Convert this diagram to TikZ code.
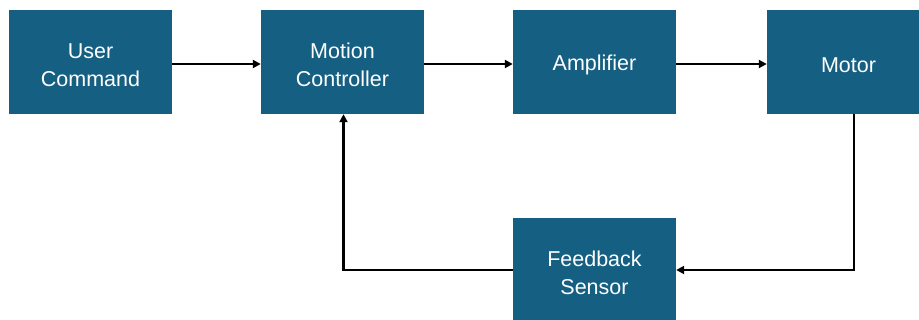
\documentclass[tikz,border=0pt]{standalone}
\usepackage{fontspec}
\setmainfont{Liberation Sans}
\usetikzlibrary{arrows.meta}
\definecolor{boxblue}{HTML}{156082}
\begin{document}
\begin{tikzpicture}[x=1pt,y=-1pt,
  blk/.style={fill=boxblue,draw=none,inner sep=0pt,
    minimum width=163pt,minimum height=104pt},
  txt/.style={text=white,align=center,inner sep=0pt,yshift=-3pt,
    font=\fontsize{21.5}{28}\selectfont},
  conn/.style={draw=black,line width=2.4pt,-{Triangle[length=8pt,width=8pt]}}]
\useasboundingbox (0,0) rectangle (919,320);
\clip (0,0) rectangle (919,320);
\fill[white] (0,0) rectangle (919,320);
\node[blk] (uc) at (90.5,62) {};
\node[blk] (mc) at (342.5,62) {};
\node[blk] (amp) at (594.5,62) {};
\node[blk] (mot) at (848.5,62) {};
\node[blk] (fs) at (594.5,270) {};
\node[txt] (uct) at (uc) {User\\Command};
\node[txt] (mct) at (mc) {Motion\\Controller};
\node[txt] (ampt) at (amp) {Amplifier};
\node[txt] (mott) at (mot) {Motor};
\node[txt] (fst) at (fs) {Feedback\\Sensor};
\draw[conn] ([yshift=-2pt]uc.east) -- ([yshift=-2pt]mc.west);
\draw[conn] ([yshift=-2pt]mc.east) -- ([yshift=-2pt]amp.west);
\draw[conn] ([yshift=-2pt]amp.east) -- ([yshift=-2pt]mot.west);
\draw[conn] ([xshift=5.5pt]mot.south) |- (fs.east);
\draw[conn] (fs.west) -| ([xshift=1pt]mc.south);
\end{tikzpicture}
\end{document}
